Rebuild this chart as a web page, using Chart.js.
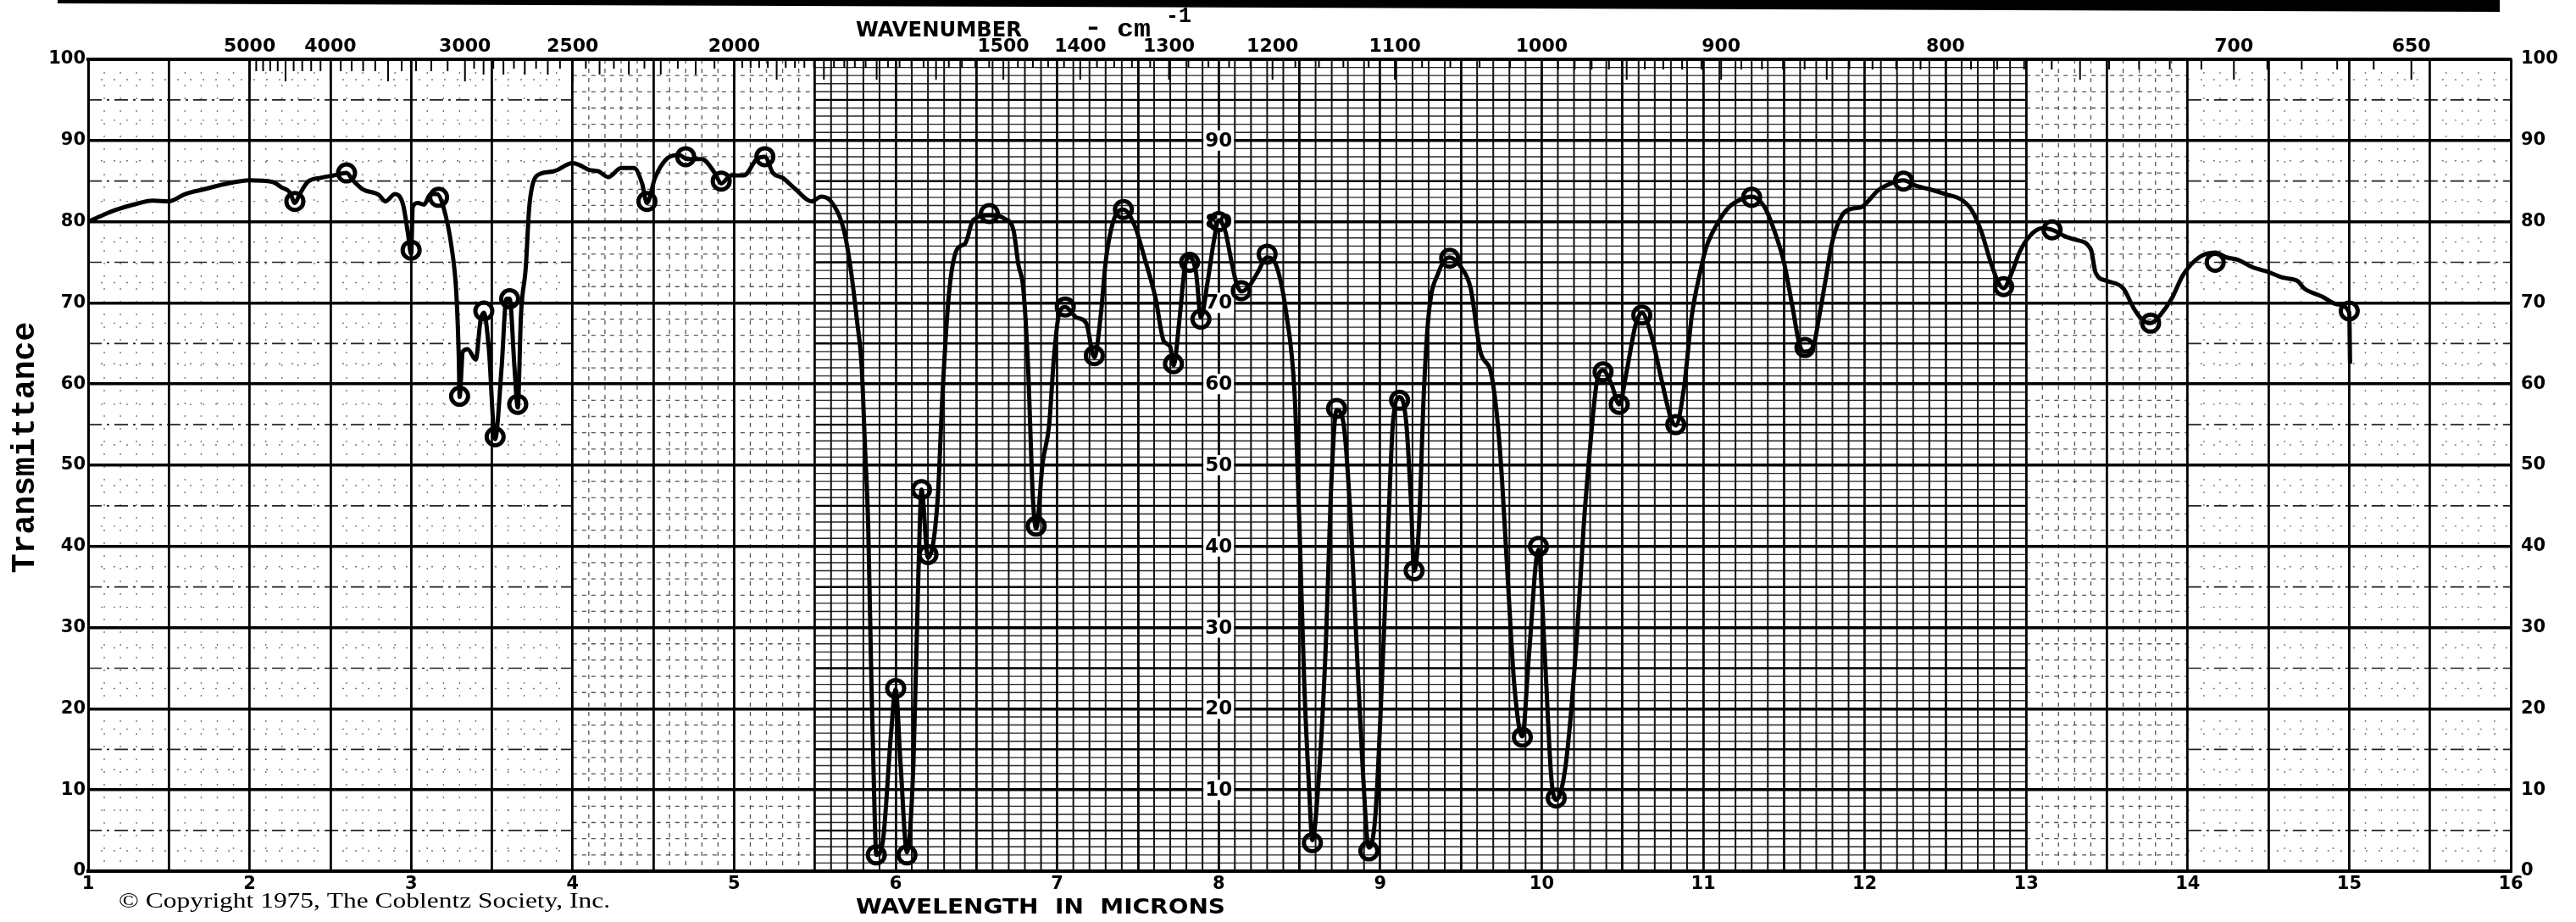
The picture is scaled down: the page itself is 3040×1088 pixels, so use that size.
<!DOCTYPE html>
<html>
<head>
<meta charset="utf-8">
<title>Infrared spectrum</title>
<script src="https://cdn.jsdelivr.net/npm/chart.js@4/dist/chart.umd.min.js"></script>
<style>
  html, body { margin: 0; padding: 0; background: #fff; }
  canvas { display: block; }
</style>
</head>
<body>
<canvas id="spectrum" width="3040" height="1088"></canvas>
<script>
'use strict';

// trace: wavelength in microns, % transmittance
const wavelengths = [
  1.00, 1.09, 1.18, 1.28, 1.40, 1.50, 1.60, 1.72, 1.84, 2.00, 2.14, 2.20, 2.25, 2.28, 2.31, 2.36, 2.44, 2.52, 2.60, 2.64,
  2.70, 2.80, 2.84, 2.90, 2.95, 2.98, 3.00, 3.01, 3.04, 3.08, 3.12, 3.16, 3.20, 3.25, 3.28, 3.295, 3.30, 3.32, 3.35, 3.40,
  3.43, 3.45, 3.48, 3.52, 3.56, 3.59, 3.61, 3.64, 3.66, 3.68, 3.71, 3.73, 3.75, 3.78, 3.88, 4.00, 4.04, 4.10, 4.16, 4.22,
  4.30, 4.38, 4.43, 4.46, 4.51, 4.58, 4.66, 4.71, 4.80, 4.88, 4.92, 4.98, 5.06, 5.14, 5.19, 5.24, 5.30, 5.38, 5.48, 5.54,
  5.60, 5.68, 5.72, 5.76, 5.79, 5.81, 5.83, 5.85, 5.87, 5.88, 5.92, 5.97, 6.00, 6.03, 6.07, 6.11, 6.14, 6.16, 6.20, 6.26,
  6.29, 6.33, 6.38, 6.43, 6.48, 6.58, 6.68, 6.73, 6.76, 6.79, 6.82, 6.85, 6.87, 6.91, 6.95, 6.98, 7.01, 7.05, 7.12, 7.18,
  7.23, 7.27, 7.30, 7.35, 7.41, 7.48, 7.54, 7.61, 7.66, 7.70, 7.72, 7.76, 7.79, 7.82, 7.86, 7.89, 7.93, 7.97, 8.00, 8.04,
  8.08, 8.11, 8.14, 8.19, 8.24, 8.30, 8.36, 8.42, 8.47, 8.50, 8.53, 8.56, 8.58, 8.61, 8.66, 8.70, 8.73, 8.77, 8.81, 8.85,
  8.89, 8.93, 8.97, 9.01, 9.05, 9.08, 9.12, 9.16, 9.19, 9.21, 9.24, 9.27, 9.30, 9.36, 9.43, 9.50, 9.56, 9.62, 9.69, 9.74,
  9.79, 9.83, 9.88, 9.92, 9.98, 10.02, 10.06, 10.09, 10.15, 10.22, 10.26, 10.30, 10.34, 10.38, 10.43, 10.48, 10.53, 10.58, 10.62, 10.68,
  10.74, 10.80, 10.83, 10.88, 10.93, 10.98, 11.02, 11.08, 11.16, 11.24, 11.30, 11.38, 11.44, 11.50, 11.55, 11.60, 11.63, 11.68, 11.72, 11.76,
  11.80, 11.86, 11.92, 11.98, 12.02, 12.08, 12.16, 12.24, 12.32, 12.40, 12.50, 12.60, 12.66, 12.72, 12.78, 12.83, 12.86, 12.91, 12.96, 13.02,
  13.10, 13.16, 13.24, 13.30, 13.40, 13.43, 13.50, 13.60, 13.67, 13.72, 13.77, 13.83, 13.90, 13.97, 14.07, 14.17, 14.24, 14.31, 14.40, 14.50,
  14.59, 14.68, 14.72, 14.83, 14.93, 15.00, 15.005
];
const transmittance = [
  80.0, 80.8, 81.5, 82.1, 82.6, 82.5, 83.4, 84.0, 84.6, 85.1, 84.9, 84.2, 83.6, 82.3, 83.4, 84.9, 85.4, 85.7, 86.0, 85.1,
  84.0, 83.3, 82.5, 83.4, 82.1, 78.6, 76.0, 81.8, 82.3, 82.1, 83.4, 83.4, 81.8, 76.9, 71.1, 63.3, 58.4, 64.0, 64.3, 63.0,
  67.9, 68.8, 64.6, 53.2, 62.0, 70.5, 70.5, 62.0, 57.1, 68.5, 74.4, 81.5, 84.4, 85.7, 86.2, 87.2, 87.0, 86.4, 86.2, 85.5,
  86.6, 86.6, 84.7, 82.3, 85.4, 87.7, 88.2, 87.7, 87.7, 86.0, 84.7, 85.7, 85.7, 87.7, 88.0, 86.0, 85.4, 84.0, 82.5, 83.1,
  82.5, 78.9, 74.4, 67.9, 62.0, 52.3, 42.5, 23.0, 6.8, 2.0, 3.6, 16.6, 22.4, 13.3, 2.3, 13.3, 36.0, 47.0, 38.6, 45.8,
  58.8, 71.1, 76.6, 77.3, 80.2, 80.8, 80.3, 78.9, 74.7, 71.8, 62.0, 45.8, 42.2, 50.3, 54.9, 63.3, 68.5, 69.5, 68.2, 67.5,
  63.3, 68.5, 75.0, 80.2, 81.5, 79.5, 75.6, 70.5, 65.3, 64.6, 62.3, 68.5, 74.4, 75.6, 73.7, 68.2, 72.4, 77.6, 80.2, 78.9,
  75.0, 72.4, 71.4, 72.1, 73.7, 75.6, 74.4, 68.5, 58.8, 42.5, 23.0, 10.1, 3.8, 8.8, 26.3, 49.0, 56.8, 55.5, 45.8, 29.5,
  13.3, 2.9, 6.8, 23.0, 42.5, 55.5, 58.4, 55.5, 45.8, 37.0, 42.5, 58.8, 68.5, 73.7, 75.6, 74.4, 71.8, 64.0, 61.0, 52.3,
  36.0, 23.0, 16.6, 26.3, 39.6, 26.3, 11.4, 8.8, 13.3, 29.5, 42.5, 52.3, 60.1, 61.7, 60.1, 57.5, 62.0, 67.2, 68.8, 65.9,
  60.7, 55.8, 54.9, 59.4, 68.5, 73.7, 76.9, 79.5, 81.8, 82.8, 83.1, 81.8, 78.9, 75.0, 69.8, 64.6, 64.0, 64.6, 68.5, 73.1,
  77.6, 80.8, 81.6, 81.8, 82.5, 83.8, 84.7, 85.1, 84.4, 84.0, 83.4, 82.7, 81.5, 78.9, 75.0, 72.4, 71.8, 73.7, 76.3, 78.2,
  79.2, 79.0, 78.2, 77.8, 76.6, 73.7, 72.7, 71.8, 69.2, 67.9, 67.5, 68.5, 70.5, 73.4, 75.6, 76.2, 75.6, 75.3, 74.4, 73.8,
  73.1, 72.7, 71.8, 70.8, 69.8, 68.8, 62.5
];

// little pen circles put on the peaks
const markWavelengths = [
  2.28, 2.60, 3.00, 3.17, 3.30, 3.45, 3.52, 3.61, 3.66, 4.46, 4.70, 4.92, 5.19, 5.88, 6.00, 6.07, 6.16, 6.20,
  6.58, 6.87, 7.05, 7.23, 7.41, 7.72, 7.82, 7.89, 8.00, 8.14, 8.30, 8.58, 8.73, 8.93, 9.12, 9.21, 9.43, 9.88,
  9.98, 10.09, 10.38, 10.48, 10.62, 10.83, 11.30, 11.63, 12.24, 12.86, 13.16, 13.77, 14.17, 15.00
];
const markValues = [
  82.5, 86.0, 76.5, 83.0, 58.5, 69.0, 53.5, 70.5, 57.5, 82.5, 88.0, 85.0, 88.0, 2.0, 22.5, 2.0, 47.0, 39.0,
  81.0, 42.5, 69.5, 63.5, 81.5, 62.5, 75.0, 68.0, 80.0, 71.5, 76.0, 3.5, 57.0, 2.5, 58.0, 37.0, 75.5, 16.5,
  40.0, 9.0, 61.5, 57.5, 68.5, 55.0, 83.0, 64.5, 85.0, 72.0, 79.0, 67.5, 75.0, 69.0
];

// axes
const wavenumberTicks = [5000, 4000, 3000, 2500, 2000, 1500, 1400, 1300, 1200, 1100, 1000, 900, 800, 700, 650];
const innerTicks = [90, 80, 70, 60, 50, 40, 30, 20, 10];

const curve = wavelengths.map((w, i) => ({ x: w, y: transmittance[i] }));
const marks = markWavelengths.map((w, i) => ({ x: w, y: markValues[i] }));

function line(ctx, x0, y0, x1, y1) {
  ctx.beginPath();
  ctx.moveTo(x0, y0);
  ctx.lineTo(x1, y1);
  ctx.stroke();
}

// draws text squeezed or stretched to a given width
function fitText(ctx, text, x, y, font, width) {
  ctx.save();
  ctx.font = font;
  const w = ctx.measureText(text).width;
  ctx.translate(x, y);
  ctx.scale(width / w, 1);
  ctx.fillText(text, 0, 0);
  ctx.restore();
}

// the chart paper: fine rulings under the library grid
const paper = {
  id: 'paper',
  beforeDraw(chart) {
    const ctx = chart.ctx;
    const xs = chart.scales.x, ys = chart.scales.y;
    const a = chart.chartArea;
    ctx.save();
    ctx.fillStyle = '#fff';
    ctx.fillRect(0, 0, chart.width, chart.height);

    const px = v => xs.getPixelForValue(v);
    const py = v => ys.getPixelForValue(v);

    // fine region 5.5 - 13 microns
    ctx.setLineDash([]);
    ctx.strokeStyle = '#262626';
    ctx.lineWidth = 1.4;
    for (let t = 1; t < 100; t++) {
      if (t % 5 === 0) continue;
      line(ctx, px(5.5), py(t), px(13), py(t));
    }
    ctx.strokeStyle = '#111';
    ctx.lineWidth = 2;
    for (let k = 56; k < 130; k++) {
      if (k % 5 === 0) continue;
      line(ctx, px(k / 10), a.top, px(k / 10), a.bottom);
    }
    ctx.lineWidth = 2.4;
    ctx.strokeStyle = '#000';
    for (let t = 5; t < 100; t += 10) line(ctx, px(5.5), py(t), px(13), py(t));

    // medium rulings 4 - 5.5 and 13 - 14
    const medium = [[4, 5.5], [13, 14]];
    ctx.strokeStyle = '#555';
    ctx.lineWidth = 1.3;
    ctx.setLineDash([5, 6]);
    medium.forEach(([lo, hi]) => {
      for (let k = Math.round(lo * 10) + 1; k < hi * 10; k++) {
        if (k % 5 === 0) continue;
        line(ctx, px(k / 10), a.top, px(k / 10), a.bottom);
      }
      for (let t = 2; t < 100; t += 2) {
        if (t % 10 === 0) continue;
        line(ctx, px(lo), py(t), px(hi), py(t));
      }
    });

    // sparse dotted rulings 1 - 4 and 14 - 16
    const sparse = [[1, 4], [14, 16]];
    ctx.strokeStyle = '#777';
    ctx.lineWidth = 1.4;
    ctx.setLineDash([2, 13]);
    sparse.forEach(([lo, hi]) => {
      for (let k = Math.round(lo * 10) + 1; k < hi * 10; k++) {
        if (k % 5 === 0) continue;
        line(ctx, px(k / 10), a.top, px(k / 10), a.bottom);
      }
      for (let t = 2.5; t < 100; t += 5) line(ctx, px(lo), py(t), px(hi), py(t));
    });
    ctx.strokeStyle = '#222';
    ctx.lineWidth = 1.7;
    ctx.setLineDash([16, 6, 3, 6]);
    sparse.forEach(([lo, hi]) => {
      for (let t = 5; t < 100; t += 10) line(ctx, px(lo), py(t), px(hi), py(t));
    });
    ctx.restore();
  },
  beforeDatasetsDraw(chart) {
    const ctx = chart.ctx;
    const xs = chart.scales.x, ys = chart.scales.y, top = chart.scales.xTop;
    const a = chart.chartArea;
    ctx.save();

    // ticks hanging from the wavenumber scale
    ctx.strokeStyle = '#000';
    ctx.setLineDash([]);
    const hang = (w, len, lw) => {
      const x = top.getPixelForValue(10000 / w);
      ctx.lineWidth = lw;
      line(ctx, x, a.top, x, a.top + len);
    };
    for (let w = 5000; w >= 3000; w -= 100) hang(w, w % 500 === 0 ? 26 : 14, 2);
    for (let w = 2950; w >= 2000; w -= 50) hang(w, w % 500 === 0 ? 26 : (w % 100 === 0 ? 18 : 11), 2);
    for (let w = 1980; w >= 1000; w -= 20) hang(w, w % 100 === 0 ? 24 : 10, 2);
    for (let w = 990; w >= 650; w -= 10) hang(w, w % 50 === 0 ? 24 : 12, 2);

    // second column of figures at 8 microns
    ctx.font = 'bold 23px "DejaVu Sans"';
    ctx.textAlign = 'center';
    ctx.textBaseline = 'middle';
    const x8 = xs.getPixelForValue(8);
    innerTicks.forEach(t => {
      const y = ys.getPixelForValue(t);
      ctx.fillStyle = '#fff';
      ctx.fillRect(x8 - 18, y - 12, 36, 24);
      ctx.fillStyle = '#000';
      ctx.fillText(String(t), x8, y + 1);
    });
    ctx.restore();
  },
  afterDraw(chart) {
    const ctx = chart.ctx;
    ctx.save();
    ctx.fillStyle = '#000';

    // dark strip along the top edge of the scan
    ctx.beginPath();
    ctx.moveTo(68, 0);
    ctx.lineTo(2950, 0);
    ctx.lineTo(2950, 14);
    ctx.lineTo(68, 4);
    ctx.closePath();
    ctx.fill();

    ctx.textBaseline = 'alphabetic';
    ctx.textAlign = 'left';
    fitText(ctx, 'WAVENUMBER', 1010, 43, 'bold 25px "DejaVu Sans"', 196);
    fitText(ctx, '-', 1283, 40, 'bold 25px "DejaVu Sans"', 14);
    fitText(ctx, 'cm', 1318, 43, 'bold 30px "Liberation Mono"', 40);
    fitText(ctx, '-1', 1376, 26, 'bold 26px "Liberation Mono"', 30);
    fitText(ctx, 'WAVELENGTH  IN  MICRONS', 1010, 1078, 'bold 25px "DejaVu Sans"', 436);
    fitText(ctx, '\u00a9 Copyright 1975, The Coblentz Society, Inc.', 140, 1071, '25px "Liberation Serif"', 580);

    ctx.translate(30, 528);
    ctx.rotate(-Math.PI / 2);
    ctx.textAlign = 'center';
    ctx.textBaseline = 'middle';
    ctx.font = 'bold 38px "Liberation Mono"';
    ctx.fillText('Transmittance', 0, 0);
    ctx.restore();
  }
};

const tickFont = { family: 'DejaVu Sans', weight: 'bold', size: 21 };

new Chart(document.getElementById('spectrum'), {
  type: 'line',
  data: {
    datasets: [
      {
        label: 'Transmittance',
        data: curve,
        borderColor: '#000',
        borderWidth: 5,
        pointRadius: 0,
        fill: false,
        cubicInterpolationMode: 'monotone',
        xAxisID: 'x',
        yAxisID: 'y'
      },
      {
        label: 'Peak marks',
        data: marks,
        showLine: false,
        pointRadius: 10,
        pointBorderWidth: 5,
        pointBorderColor: '#000',
        pointBackgroundColor: 'rgba(255,255,255,0)',
        xAxisID: 'x',
        yAxisID: 'y'
      }
    ]
  },
  options: {
    responsive: false,
    animation: false,
    devicePixelRatio: 1,
    layout: { padding: 0 },
    plugins: { legend: { display: false }, tooltip: { enabled: false } },
    scales: {
      x: {
        type: 'linear',
        position: 'bottom',
        min: 1,
        max: 16,
        afterFit(s) { s.height = 60; },
        ticks: {
          stepSize: 0.5,
          autoSkip: false,
          maxRotation: 0,
          padding: 3,
          color: '#000',
          font: tickFont,
          callback: v => Number.isInteger(v) ? String(v) : ''
        },
        grid: { color: '#000', lineWidth: 2.8, drawTicks: false },
        border: { color: '#000', width: 4 }
      },
      xTop: {
        type: 'linear',
        position: 'top',
        min: 1,
        max: 16,
        afterFit(s) { s.height = 70; },
        afterBuildTicks(s) { s.ticks = wavenumberTicks.map(w => ({ value: 10000 / w })); },
        ticks: {
          autoSkip: false,
          maxRotation: 0,
          padding: 2,
          color: '#000',
          font: { family: 'DejaVu Sans', weight: 'bold', size: 22 },
          callback: (v, i) => String(wavenumberTicks[i])
        },
        grid: { drawOnChartArea: false, drawTicks: false },
        border: { color: '#000', width: 4 }
      },
      y: {
        position: 'left',
        min: 0,
        max: 100,
        afterFit(s) { s.width = 104; },
        ticks: { stepSize: 10, padding: 3, color: '#000', font: tickFont },
        grid: { color: '#000', lineWidth: 3.6, drawTicks: false },
        border: { color: '#000', width: 3 }
      },
      yRight: {
        position: 'right',
        min: 0,
        max: 100,
        afterFit(s) { s.width = 77; },
        ticks: { stepSize: 10, padding: 12, color: '#000', font: { family: 'DejaVu Sans', weight: 'bold', size: 21 } },
        grid: { drawOnChartArea: false, drawTicks: false },
        border: { color: '#000', width: 3 }
      }
    }
  },
  plugins: [paper]
});
</script>
</body>
</html>
